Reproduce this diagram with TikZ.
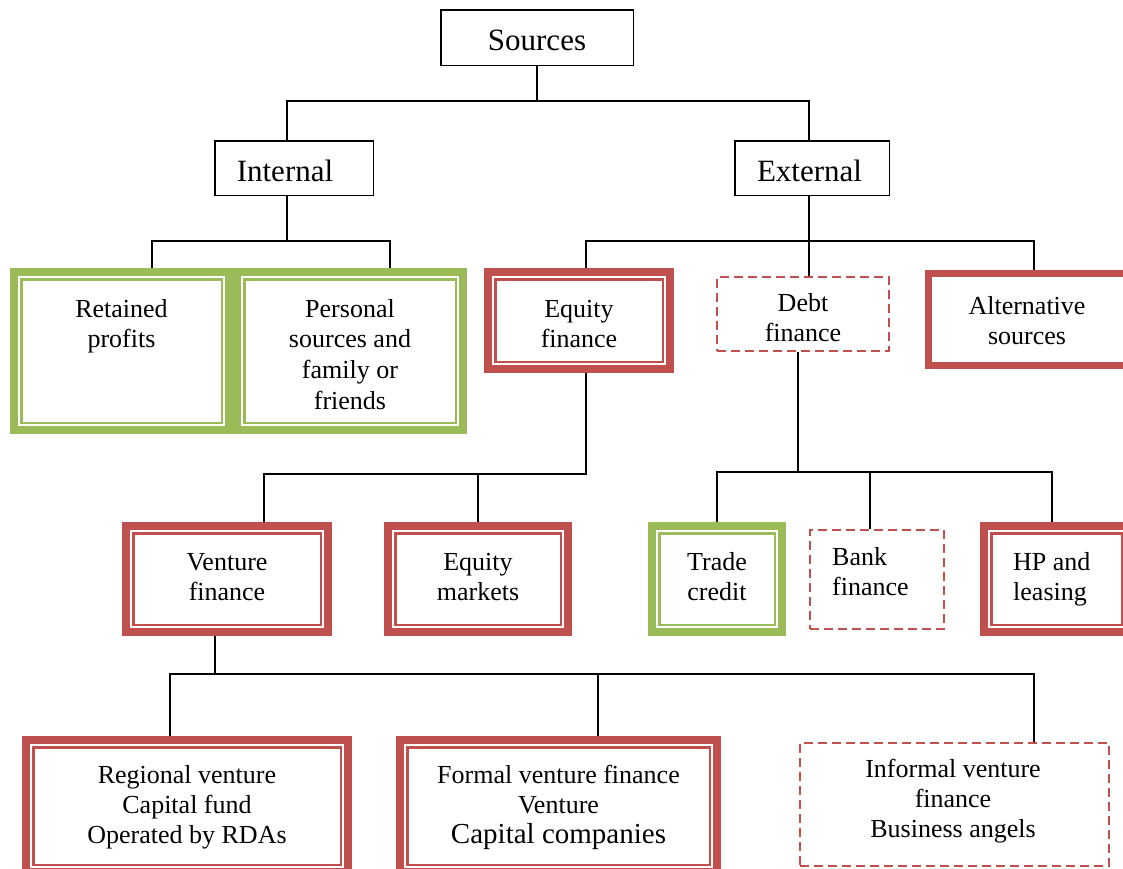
\documentclass[tikz,border=0pt]{standalone}
\usepackage{fontspec}
\setmainfont{Liberation Serif}
\definecolor{accred}{HTML}{C0504D}
\definecolor{accgreen}{HTML}{9BBB59}
\newcommand\txtlines[2][c]{\begin{tabular}[t]{@{}#1@{}}#2\end{tabular}}
\newcommand\lowered[1]{\raisebox{-2.5pt}[\height][\depth]{#1}}
\tikzset{
  x=1pt, y=-1pt,
  link/.style={line width=1.5pt, black},
  plainbox/.style={draw=black, line width=1.5pt, inner sep=0pt, outer sep=0.75pt,
    font=\fontsize{31}{36}\selectfont},
  bandbox/.style={draw=#1, line width=8pt, outer sep=4pt, inner sep=0pt,
    path picture={\draw[#1, line width=2.5pt]
      ([shift={(7.25pt,-7.25pt)}]path picture bounding box.north west) rectangle
      ([shift={(-7.25pt,7.25pt)}]path picture bounding box.south east);}},
  solidband/.style={draw=#1, line width=7pt, outer sep=3.5pt, inner sep=0pt},
  dashbox/.style={draw=accred, line width=2pt, dash pattern=on 9pt off 5pt,
    outer sep=1pt, inner sep=0pt},
  txt/.style={anchor=base, inner sep=0pt, font=\fontsize{26}{30.9}\selectfont},
  txtl/.style={txt, anchor=base west},
  txtb/.style={txt, font=\fontsize{26}{30.4}\selectfont},
}
\begin{document}
\begin{tikzpicture}
\useasboundingbox (0,0) rectangle (1123,868);
\fill[white] (0,0) rectangle (1123,868);
\clip (0,0) rectangle (1123,868);

% top levels
\node[plainbox, minimum width=192.5pt, minimum height=55.5pt] (Sources) at (537,37.5) {\lowered{Sources}};
\node[plainbox, minimum width=158.5pt, minimum height=54.5pt] (Internal) at (294,168) {\lowered{Internal}\kern18pt};
\node[plainbox, minimum width=154.5pt, minimum height=54.5pt] (External) at (812,168) {\lowered{External}\kern5pt};

% internal sources
\node[bandbox=accgreen, minimum width=215pt, minimum height=158pt] (Retained) at (121.5,351) {};
\node[bandbox=accgreen, minimum width=226pt, minimum height=158pt] (Personal) at (350,351) {};
\node[txt] (tRetained) at (121.5,317) {\txtlines{Retained\\profits}};
\node[txt] (tPersonal) at (350,317) {\txtlines{Personal\\sources and\\family or\\friends}};

% external sources
\node[bandbox=accred, minimum width=182pt, minimum height=97pt] (EqFin) at (579,320.5) {};
\node[dashbox, minimum width=172pt, minimum height=74pt] (Debt) at (803,314) {};
\node[solidband=accred, minimum width=200pt, minimum height=92pt] (Alt) at (1028.5,319.5) {};
\node[txt] (tEqFin) at (579,317) {\txtlines{Equity\\finance}};
\node[txt] (tDebt) at (803,311) {\txtlines{Debt\\finance}};
\node[txt] (tAlt) at (1027,314) {\txtlines{Alternative\\sources}};

% equity and debt branches
\node[bandbox=accred, minimum width=202pt, minimum height=106pt] (Venture) at (227,579) {};
\node[bandbox=accred, minimum width=180pt, minimum height=106pt] (EqMkt) at (478,579) {};
\node[bandbox=accgreen, minimum width=130pt, minimum height=106pt] (Trade) at (717,579) {};
\node[dashbox, minimum width=134pt, minimum height=99pt] (Bank) at (877,579.5) {};
\node[bandbox=accred, minimum width=145pt, minimum height=106pt] (HP) at (1056.5,579) {};
\node[txt] (tVenture) at (227,570) {\txtlines{Venture\\finance}};
\node[txt] (tEqMkt) at (478,570) {\txtlines{Equity\\markets}};
\node[txt] (tTrade) at (717,570) {\txtlines{Trade\\credit}};
\node[txtl] (tBank) at (832,565) {\txtlines[l]{Bank\\finance}};
\node[txtl] (tHP) at (1013,570) {\txtlines[l]{HP and\\leasing}};

% venture finance branch
\node[bandbox=accred, minimum width=322pt, minimum height=132pt] (Regional) at (187,806) {};
\node[bandbox=accred, minimum width=317pt, minimum height=132pt] (Formal) at (558.5,806) {};
\node[dashbox, minimum width=309pt, minimum height=123pt] (Informal) at (954.5,804.5) {};
\node[txtb] (tRegional) at (187,783) {\txtlines{Regional venture\\Capital fund\\Operated by RDAs}};
\node[txtb] (tFormal) at (558.5,783) {\txtlines{Formal venture finance\\Venture\\{\fontsize{29}{30}\selectfont Capital companies}}};
\node[txtb] (tInformal) at (953,777) {\txtlines{Informal venture\\finance\\Business angels}};

% connectors
\draw[link] (Sources.south) -- ++(0,35);
\draw[link] ([xshift=-7pt]Internal.north) -- ++(0,-39) -| ([xshift=-3pt]External.north);

\draw[link] ([xshift=-7pt]Internal.south) -- ++(0,45);
\draw[link] ([xshift=30.5pt]Retained.north) -- ++(0,-27) -| ([xshift=40pt]Personal.north);

\draw[link] ([xshift=-3pt]External.south) -- ++(0,45);
\draw[link] ([xshift=7pt]EqFin.north) -- ++(0,-27) -| ([xshift=5.5pt]Alt.north);
\draw[link] ([xshift=6pt]Debt.north) -- ++(0,-35);

\draw[link] ([xshift=37pt]Venture.north) -- ++(0,-48) -| ([xshift=7pt]EqFin.south);
\draw[link] (EqMkt.north) -- ++(0,-48);

\draw[link] ([xshift=-5pt]Debt.south) -- ++(0,120);
\draw[link] (Trade.north) -- ++(0,-50) -| ([xshift=-4.5pt]HP.north);
\draw[link] ([xshift=-7pt]Bank.north) -- ++(0,-57);

\draw[link] ([xshift=-12pt]Venture.south) -- ++(0,38);
\draw[link] ([xshift=-17pt]Regional.north) -- ++(0,-62) -| ([xshift=79.5pt]Informal.north);
\draw[link] ([xshift=39.5pt]Formal.north) -- ++(0,-62);
\end{tikzpicture}
\end{document}
